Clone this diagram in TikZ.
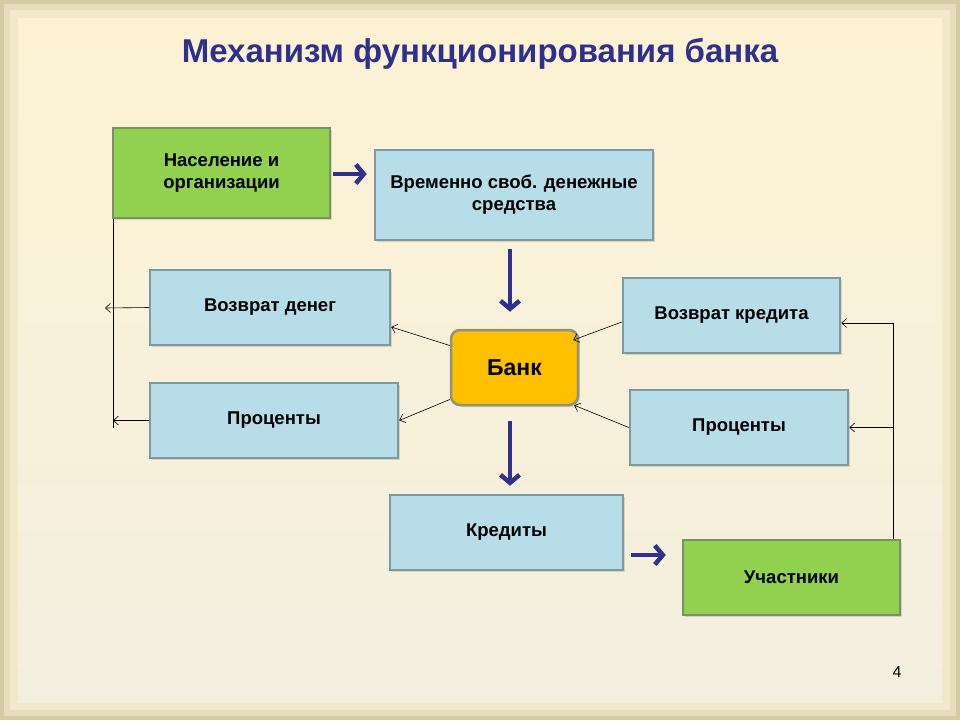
\documentclass[tikz,border=0pt]{standalone}
\usepackage{fontspec}
\setmainfont{Liberation Sans}
\usetikzlibrary{arrows.meta}
\definecolor{titleblue}{RGB}{46,49,140}
\definecolor{arrowblue}{RGB}{48,48,142}
\definecolor{boxgreen}{RGB}{146,208,80}
\definecolor{greenedge}{RGB}{118,148,98}
\definecolor{boxblue}{RGB}{183,222,232}
\definecolor{blueedge}{RGB}{124,154,160}
\definecolor{bankgold}{RGB}{255,192,0}
\definecolor{bankedge}{RGB}{148,146,118}
\definecolor{bgframe}{RGB}{212,202,166}
\definecolor{bgmid}{RGB}{230,221,188}
\definecolor{bgedge}{RGB}{242,233,203}
\definecolor{bgtop}{RGB}{253,242,212}
\definecolor{bgbottom}{RGB}{243,239,223}

\begin{document}
\begin{tikzpicture}[x=1pt,y=-1pt,
  flowbox/.style={draw=blueedge,line width=2.5pt,fill=boxblue,minimum height=75pt,align=center,font=\fontsize{18.5}{22}\selectfont\bfseries,preaction={fill=black,opacity=0.12,transform canvas={xshift=2pt,yshift=-2pt}}},
  greenbox/.style={flowbox,draw=greenedge,fill=boxgreen},
  bankbox/.style={flowbox,draw=bankedge,fill=bankgold,rounded corners=9pt,font=\fontsize{23}{26}\selectfont\bfseries},
  bigarrow/.style={draw=arrowblue,line width=4.5pt,-{Straight Barb[length=8pt,width=19pt]}},
  thinarrow/.style={draw=black,line width=0.6pt,-{Straight Barb[length=5pt,width=9pt]}}]
  \fill[bgframe] (0,0) rectangle (960,720);
  \fill[bgmid] (4,4) rectangle (956,716);
  \fill[bgedge] (10,10) rectangle (950,710);
  \shade[top color=bgtop,bottom color=bgbottom] (18,18) rectangle (942,702);
  \useasboundingbox (0,0) rectangle (960,720);

  \node[font=\fontsize{33}{38}\selectfont\bfseries,text=titleblue] (title) at (480,54) {Механизм функционирования банка};

  \node[greenbox,minimum width=217pt,minimum height=90pt] (pop) at (221.5,173) {Население и\\организации};
  \node[flowbox,minimum width=278pt,minimum height=90pt] (funds) at (514,195) {Временно своб. денежные\\средства};
  \node[flowbox,minimum width=240pt] (retm) at (270,307.5) {Возврат денег};
  \node[flowbox,minimum width=248pt] (pctl) at (274,420.5) {Проценты};
  \node[bankbox,minimum width=127pt] (bank) at (514.5,367.5) {Банк};
  \node[flowbox,minimum width=217pt] (retc) at (731.5,315.5) {Возврат кредита};
  \node[flowbox,minimum width=218pt] (pctr) at (739,427.5) {Проценты};
  \node[flowbox,minimum width=233pt] (cred) at (506.5,532.5) {Кредиты};
  \node[greenbox,minimum width=217pt] (memb) at (791.5,577.5) {Участники};
  \node[font=\fontsize{16}{18}\selectfont] (page) at (897,672) {4};

  \coordinate (lbot) at (113,428);
  \coordinate (lft) at (105,308);
  \coordinate (rtop) at (893,323);

  \draw[bigarrow,shorten <=2pt,shorten >=7pt] ([yshift=-1pt]pop.east) -- ([yshift=-1pt]pop.east -| funds.west);
  \draw[bigarrow,shorten <=8pt,shorten >=17pt] ([xshift=-4pt]funds.south) -- ([xshift=-4.5pt]bank.north);
  \draw[bigarrow,shorten <=15pt,shorten >=8pt] ([xshift=-4.5pt]bank.south) -- ([xshift=3.5pt]cred.north);
  \draw[bigarrow,shorten <=7pt,shorten >=16pt] ([yshift=-22.5pt]cred.east) -- ([yshift=-22.5pt]cred.east -| memb.west);

  \draw[thinarrow] ([yshift=22pt]bank.west) -- ([yshift=-19.5pt]retm.east);
  \draw[thinarrow] ([yshift=-32pt]bank.west) -- (pctl.east);
  \draw[thinarrow] ([yshift=-6.5pt]retc.west) -- ([xshift=-6pt,yshift=27.5pt]bank.east);
  \draw[thinarrow] (pctr.west) -- ([xshift=-5pt,yshift=1pt]bank.south east);

  \draw[line width=0.6pt] (pop.south west -| lbot) -- (lbot);
  \draw[thinarrow] (retm.west) -- (lft);
  \draw[thinarrow] (pctl.west) -- (pctl.west -| lbot);
  \draw[line width=0.6pt] (memb.north -| rtop) -- (rtop);
  \draw[thinarrow] (rtop) -- (rtop -| retc.east);
  \draw[thinarrow] (pctr.east -| rtop) -- (pctr.east);
\end{tikzpicture}
\end{document}
